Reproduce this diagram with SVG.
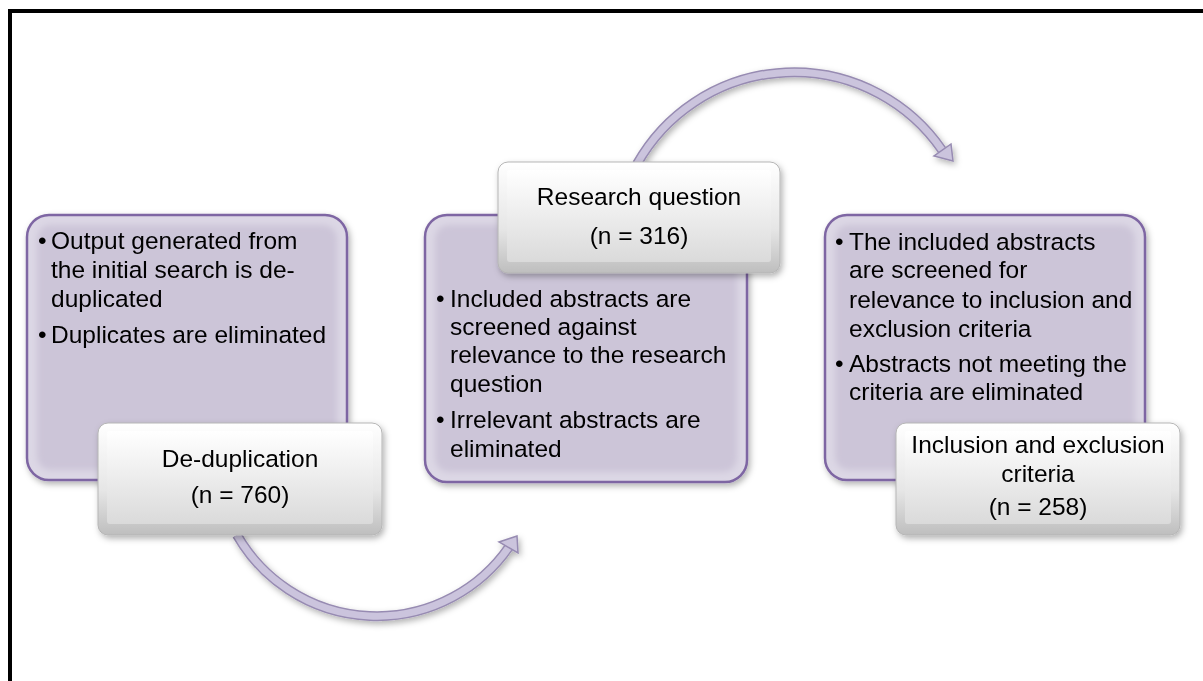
<svg xmlns="http://www.w3.org/2000/svg" width="1203" height="681" viewBox="0 0 1203 681">
  <defs>
    <style>
      .txt { font-family: "Liberation Sans", Arial, sans-serif; font-size: 24.5px; fill: #000; }
      .mid { text-anchor: middle; }
      .lav-outer { fill: #DCD7E5; stroke: #7E66A3; stroke-width: 2.5; }
      .lav-inner { fill: #CCC5D8; }
      .wht-outer { fill: url(#whtEdge); stroke: #B5B5B5; stroke-width: 1; }
      .wht-inner { fill: url(#whtFace); }
      .arc-edge { fill: none; stroke: #978BB2; stroke-width: 10; }
      .arc-body { fill: none; stroke: #CBC4DD; stroke-width: 7; }
      .head { fill: #CBC4DD; stroke: #978BB2; stroke-width: 1.5; stroke-linejoin: miter; }
    </style>
    <linearGradient id="whtEdge" x1="0" y1="0" x2="0" y2="1">
      <stop offset="0" stop-color="#FFFFFF"/>
      <stop offset="0.6" stop-color="#E6E6E6"/>
      <stop offset="1" stop-color="#BEBEBE"/>
    </linearGradient>
    <linearGradient id="whtFace" x1="0" y1="0" x2="0" y2="1">
      <stop offset="0" stop-color="#FFFFFF"/>
      <stop offset="1" stop-color="#DADADA"/>
    </linearGradient>
    <filter id="shadow" x="-10%" y="-10%" width="125%" height="130%">
      <feDropShadow dx="2" dy="3" stdDeviation="3" flood-color="#000" flood-opacity="0.3"/>
    </filter>
    <filter id="soft" x="-10%" y="-10%" width="120%" height="120%">
      <feGaussianBlur stdDeviation="3"/>
    </filter>
  </defs>

  <rect width="1203" height="681" fill="#FFFFFF"/>

  <!-- outer frame (top and left edges) -->
  <path d="M10 681 V11 H1203" fill="none" stroke="#000" stroke-width="4"/>

  <!-- curved connectors -->
  <g id="connectors" filter="url(#shadow)">
    <g id="arrow-dedup-to-question">
      <path class="arc-edge" d="M237 535 A161 161 0 0 0 509 547"/>
      <path class="arc-body" d="M237 535 A161 161 0 0 0 509 547"/>
      <polygon class="head" points="517,536 499,542 518,553"/>
    </g>
    <g id="arrow-question-to-criteria">
      <path class="arc-edge" d="M637 164 A180 180 0 0 1 942 150"/>
      <path class="arc-body" d="M637 164 A180 180 0 0 1 942 150"/>
      <polygon class="head" points="953,161 934,156 951,144"/>
    </g>
  </g>

  <!-- step 1: de-duplication -->
  <g id="node-dedup-detail" filter="url(#shadow)">
    <rect class="lav-outer" x="27" y="215" width="320" height="265" rx="22"/>
    <rect class="lav-inner" x="37" y="225" width="300" height="245" rx="14" filter="url(#soft)"/>
    <text class="txt"><tspan x="38" y="249">•</tspan><tspan x="51" y="249">Output generated from</tspan></text>
    <text class="txt" x="51" y="278">the initial search is de-</text>
    <text class="txt" x="51" y="307">duplicated</text>
    <text class="txt"><tspan x="38" y="343">•</tspan><tspan x="51" y="343">Duplicates are eliminated</tspan></text>
  </g>
  <g id="node-dedup" filter="url(#shadow)">
    <rect class="wht-outer" x="98" y="423" width="284" height="112" rx="10"/>
    <rect class="wht-inner" x="107" y="431" width="266" height="93" rx="3"/>
    <text class="txt mid" x="240" y="467">De-duplication</text>
    <text class="txt mid" x="240" y="503">(n = 760)</text>
  </g>

  <!-- step 2: research question -->
  <g id="node-question-detail" filter="url(#shadow)">
    <rect class="lav-outer" x="425" y="215" width="322" height="267" rx="22"/>
    <rect class="lav-inner" x="435" y="225" width="302" height="247" rx="14" filter="url(#soft)"/>
    <text class="txt"><tspan x="436" y="307">•</tspan><tspan x="450" y="307">Included abstracts are</tspan></text>
    <text class="txt" x="450" y="335">screened against</text>
    <text class="txt" x="450" y="363">relevance to the research</text>
    <text class="txt" x="450" y="392">question</text>
    <text class="txt"><tspan x="436" y="428">•</tspan><tspan x="450" y="428">Irrelevant abstracts are</tspan></text>
    <text class="txt" x="450" y="457">eliminated</text>
  </g>
  <g id="node-question" filter="url(#shadow)">
    <rect class="wht-outer" x="498" y="162" width="282" height="111" rx="10"/>
    <rect class="wht-inner" x="507" y="170" width="264" height="92" rx="3"/>
    <text class="txt mid" x="639" y="205">Research question</text>
    <text class="txt mid" x="639" y="244">(n = 316)</text>
  </g>

  <!-- step 3: inclusion and exclusion criteria -->
  <g id="node-criteria-detail" filter="url(#shadow)">
    <rect class="lav-outer" x="825" y="215" width="320" height="265" rx="22"/>
    <rect class="lav-inner" x="835" y="225" width="300" height="245" rx="14" filter="url(#soft)"/>
    <text class="txt"><tspan x="835" y="250">•</tspan><tspan x="849" y="250">The included abstracts</tspan></text>
    <text class="txt" x="849" y="278">are screened for</text>
    <text class="txt" x="849" y="308">relevance to inclusion and</text>
    <text class="txt" x="849" y="337">exclusion criteria</text>
    <text class="txt"><tspan x="835" y="372">•</tspan><tspan x="849" y="372">Abstracts not meeting the</tspan></text>
    <text class="txt" x="849" y="400">criteria are eliminated</text>
  </g>
  <g id="node-criteria" filter="url(#shadow)">
    <rect class="wht-outer" x="896" y="423" width="284" height="112" rx="10"/>
    <rect class="wht-inner" x="905" y="431" width="266" height="93" rx="3"/>
    <text class="txt mid" x="1038" y="453">Inclusion and exclusion</text>
    <text class="txt mid" x="1038" y="482">criteria</text>
    <text class="txt mid" x="1038" y="515">(n = 258)</text>
  </g>
</svg>
